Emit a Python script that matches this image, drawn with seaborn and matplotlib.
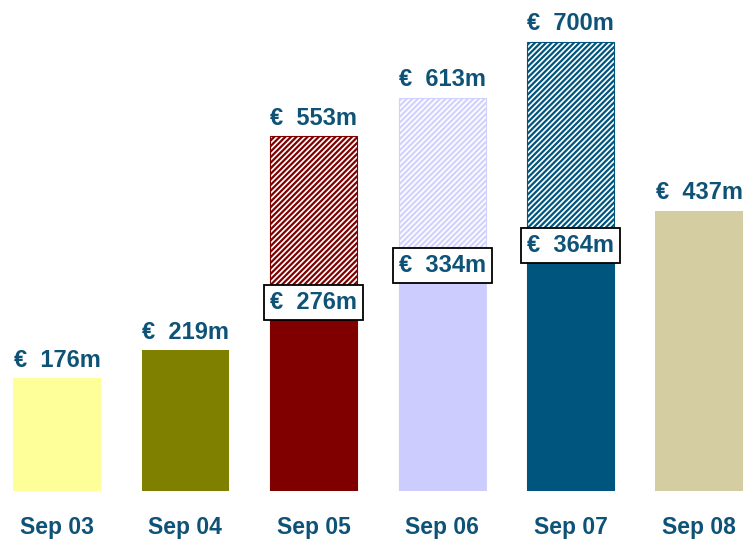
import pandas as pd
import seaborn as sns
import matplotlib.pyplot as plt

periods = ['Sep 03', 'Sep 04', 'Sep 05', 'Sep 06', 'Sep 07', 'Sep 08']
solid_values = [176, 219, 276, 334, 364, 437]
total_values = [176, 219, 553, 613, 700, 437]
bar_colors = ['#FFFF99', '#808000', '#800000', '#CCCCFF', '#00557F', '#D3CDA1']
text_color = '#0E5377'

sns.set_theme(style='white')
plt.rcParams['font.family'] = ['Liberation Sans', 'DejaVu Sans']
plt.rcParams['hatch.linewidth'] = 1.6

df = pd.DataFrame({'period': periods, 'solid': solid_values, 'total': total_values})

fig = plt.figure(figsize=(7.5, 5.45), dpi=100)
ax = fig.add_axes([0, 0.099, 1, 0.901])

# hatched totals behind, solid part on top
sns.barplot(data=df, x='period', y='total', hue='period', palette=bar_colors,
            width=0.68, legend=False, ax=ax, saturation=1)
for patch, col, s, t in zip(ax.patches, bar_colors, solid_values, total_values):
    if t > s:
        patch.set_facecolor('white')
        patch.set_edgecolor('#D2D2FF' if col == '#CCCCFF' else col)
        patch.set_hatch('//////')
        patch.set_linewidth(0.8)
n_first = len(ax.patches)

sns.barplot(data=df, x='period', y='solid', hue='period', palette=bar_colors,
            width=0.68, legend=False, ax=ax, saturation=1)
for patch in ax.patches[n_first:]:
    patch.set_edgecolor('none')

for i, (s, t) in enumerate(zip(solid_values, total_values)):
    ax.text(i, t + 10, '€  %dm' % t, ha='center', va='bottom', fontsize=17,
            fontweight='bold', color=text_color)
    if t > s:
        ax.text(i, s + 18, '€  %dm' % s, ha='center', va='center', fontsize=17,
                fontweight='bold', color=text_color,
                bbox=dict(boxstyle='square,pad=0.25', facecolor='white',
                          edgecolor='black', linewidth=1.3))

ax.set_xlim(-0.444, 5.397)
ax.set_ylim(0, 765)
ax.set_xlabel('')
ax.set_ylabel('')
ax.set_yticks([])
ax.tick_params(axis='x', length=0, pad=18)
for lbl in ax.get_xticklabels():
    lbl.set_fontweight('bold')
    lbl.set_fontsize(16.5)
    lbl.set_color(text_color)
sns.despine(ax=ax, left=True, bottom=True, top=True, right=True)

fig.savefig('out.png', dpi=100)
